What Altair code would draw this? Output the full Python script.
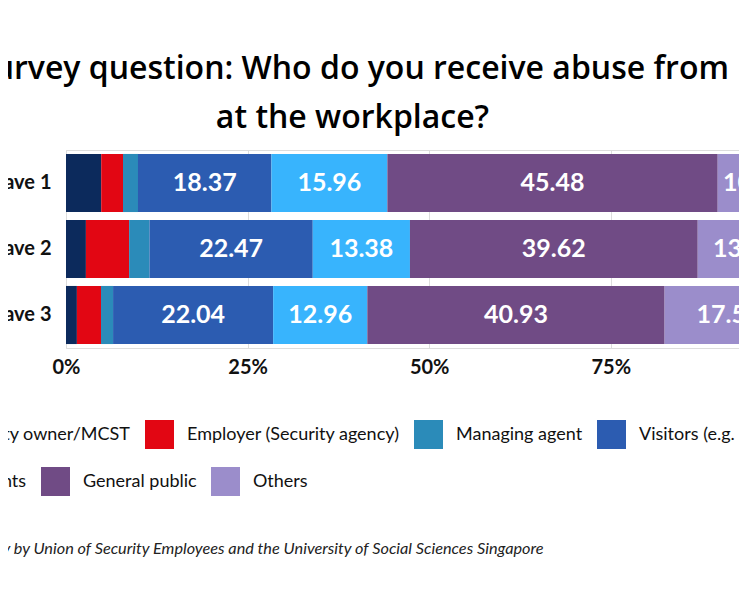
import altair as alt
import pandas as pd

waves = ["Wave 1", "Wave 2", "Wave 3"]
categories = [
    "Property owner/MCST",
    "Employer (Security agency)",
    "Managing agent",
    "Visitors (e.g. contractors)",
    "Tenants",
    "General public",
    "Others",
]
colors = ["#0c2a5c", "#e20613", "#2b8bb9", "#2c5cb1", "#38b4fd", "#704b85", "#9b8dcb"]

wave1 = [4.85, 3.00, 2.06, 18.37, 15.96, 45.48, 10.28]
wave2 = [2.74, 5.95, 2.81, 22.47, 13.38, 39.62, 13.03]
wave3 = [1.50, 3.32, 1.66, 22.04, 12.96, 40.93, 17.59]

rows = []
for w, vals in zip(waves, [wave1, wave2, wave3]):
    for i, (c, v) in enumerate(zip(categories, vals)):
        rows.append({"wave": w, "cat": c, "order": i, "value": v})
df = pd.DataFrame(rows)

FONT = "Lato"
SOURCE = "Source: Survey by Union of Security Employees and the University of Social Sciences Singapore"

base = alt.Chart(df).transform_stack(
    stack="value", groupby=["wave"], sort=[alt.SortField("order")], as_=["x0", "x1"]
).transform_calculate(mid="(datum.x0 + datum.x1) / 2")

xscale = alt.Scale(domain=[0, 92.65], nice=False, zero=True)
yscale = alt.Scale(paddingInner=0.12, paddingOuter=0.06)

xaxis = alt.Axis(
    values=[0, 25, 50, 75],
    labelExpr="datum.value + '%'",
    labelFont=FONT,
    labelFontSize=20,
    labelFontWeight="bold",
    labelColor="#111111",
    labelPadding=9,
    labelFlush=False,
    domain=False,
    ticks=False,
    grid=True,
    gridColor="#dddddd",
    title=SOURCE,
    titleFont=FONT,
    titleFontSize=16.3,
    titleFontStyle="italic",
    titleFontWeight="normal",
    titleColor="#222222",
    titleAlign="left",
    titleAnchor="start",
    titleBaseline="alphabetic",
    titleX=-155,
    titleY=205,
)

yaxis = alt.Axis(
    title=None,
    labelFont=FONT,
    labelFontSize=20,
    labelFontWeight="bold",
    labelColor="#111111",
    labelPadding=15,
    domain=False,
    ticks=False,
)


def legend(x, y):
    return alt.Legend(
        title=None,
        orient="none",
        legendX=x,
        legendY=y,
        direction="horizontal",
        symbolType="square",
        symbolSize=841,
        symbolStrokeWidth=0,
        symbolOpacity=1,
        labelFont=FONT,
        labelFontSize=18,
        labelColor="#111111",
        labelOffset=13,
        columnPadding=14,
        labelLimit=400,
    )


row1 = categories[:4]
row2 = categories[4:]

bars1 = base.transform_filter("datum.order < 4").mark_bar().encode(
    x=alt.X("x0:Q", scale=xscale, axis=xaxis),
    x2="x1:Q",
    y=alt.Y("wave:N", sort=waves, scale=yscale, axis=yaxis),
    color=alt.Color(
        "cat:N",
        sort=row1,
        scale=alt.Scale(domain=row1, range=colors[:4]),
        legend=legend(-158, 270),
    ),
)

bars2 = base.transform_filter("datum.order >= 4").mark_bar().encode(
    x=alt.X("x0:Q", scale=xscale),
    x2="x1:Q",
    y=alt.Y("wave:N", sort=waves, scale=yscale),
    color=alt.Color(
        "cat:N",
        sort=row2,
        scale=alt.Scale(domain=row2, range=colors[4:]),
        legend=legend(-143, 317),
    ),
)

labels = base.transform_filter("datum.value >= 10").mark_text(
    font=FONT, fontSize=25, fontWeight="bold", color="white", baseline="middle", align="center"
).encode(
    x=alt.X("mid:Q", scale=xscale),
    y=alt.Y("wave:N", sort=waves, scale=yscale),
    text=alt.Text("value:Q", format=".2f"),
)

chart = alt.layer(bars1, bars2, labels).resolve_scale(color="independent").properties(
    width=673,
    height=198,
    autosize=alt.AutoSizeParams(type="none"),
    padding={"left": 58, "top": 142, "right": 0, "bottom": 240},
    title=alt.TitleParams(
        text=["Survey question: Who do you receive abuse from", "at the workplace?"],
        font="Open Sans",
        fontSize=32,
        fontWeight=600,
        color="#000000",
        anchor="middle",
        dx=-50,
        lineHeight=49,
        offset=15,
    ),
).configure_view(stroke=None).configure(background="white")

chart.save("out.html", embed_options={"renderer": "svg", "actions": False})
